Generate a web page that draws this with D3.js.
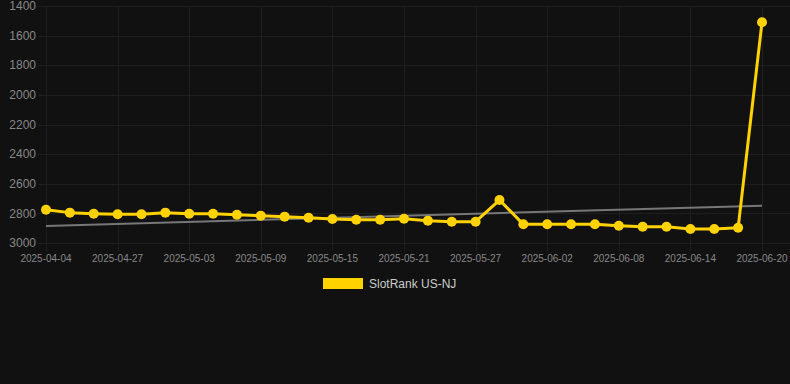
<!DOCTYPE html>
<html>
<head>
<meta charset="utf-8">
<script src="https://cdn.jsdelivr.net/npm/d3@7/dist/d3.min.js"></script>
<style>
  html, body { margin: 0; padding: 0; background: #111111; }
  svg { display: block; font-family: "Liberation Sans", Arial, Helvetica, sans-serif; }
</style>
</head>
<body>
<svg id="chart" width="790" height="384"></svg>
<script>
// chart data
const dates = [
  "2025-04-04", "2025-04-23", "2025-04-25", "2025-04-27", "2025-04-29", "2025-05-01",
  "2025-05-03", "2025-05-05", "2025-05-07", "2025-05-09", "2025-05-11", "2025-05-13",
  "2025-05-15", "2025-05-17", "2025-05-19", "2025-05-21", "2025-05-23", "2025-05-25",
  "2025-05-27", "2025-05-29", "2025-05-31", "2025-06-02", "2025-06-04", "2025-06-06",
  "2025-06-08", "2025-06-10", "2025-06-12", "2025-06-14", "2025-06-16", "2025-06-18",
  "2025-06-20"
];
const ranks = [
  2775, 2795, 2802, 2806, 2806, 2795, 2802, 2802, 2809, 2816,
  2822, 2829, 2838, 2843, 2843, 2836, 2849, 2856, 2856, 2710,
  2874, 2874, 2874, 2874, 2883, 2890, 2890, 2905, 2905, 2897,
  1510
];
const trendEnds = [2885, 2748];
const yTicks = [1400, 1600, 1800, 2000, 2200, 2400, 2600, 2800, 3000];
const seriesName = "SlotRank US-NJ";

const W = 790, H = 384;
const m = { left: 46, right: 762, top: 6, bottom: 243 };
const gold = "#FFD200";

const svg = d3.select("#chart");

const x = d3.scalePoint().domain(dates).range([m.left, m.right]);
const y = d3.scaleLinear().domain([1400, 3000]).range([m.top, m.bottom]);

// grid
const grid = svg.append("g").attr("stroke", "#1e1e1e").attr("stroke-width", 1);
grid.selectAll("line.h").data(yTicks).join("line")
  .attr("class", "h")
  .attr("x1", 38).attr("x2", W)
  .attr("y1", d => Math.round(y(d)) + 0.5).attr("y2", d => Math.round(y(d)) + 0.5);

const shown = dates.filter((d, i) => i % 3 === 0);
grid.selectAll("line.v").data(shown).join("line")
  .attr("class", "v")
  .attr("x1", d => Math.round(x(d)) + 0.5).attr("x2", d => Math.round(x(d)) + 0.5)
  .attr("y1", m.top).attr("y2", m.bottom + 8);

// axes labels
svg.append("g").selectAll("text").data(yTicks).join("text")
  .attr("x", 36).attr("y", d => y(d))
  .attr("dy", "0.35em")
  .attr("text-anchor", "end")
  .attr("fill", "#888888")
  .attr("font-size", 12)
  .text(d => d);

svg.append("g").selectAll("text").data(shown).join("text")
  .attr("x", d => x(d)).attr("y", 262)
  .attr("text-anchor", "middle")
  .attr("fill", "#888888")
  .attr("font-size", 10)
  .text(d => d);

// trend line
svg.append("line")
  .attr("x1", x(dates[0])).attr("y1", y(trendEnds[0]))
  .attr("x2", x(dates[dates.length - 1])).attr("y2", y(trendEnds[1]))
  .attr("stroke", "#777777").attr("stroke-width", 2);

// series
const pts = dates.map((d, i) => ({ d: d, v: ranks[i] }));
svg.append("path")
  .datum(pts)
  .attr("fill", "none")
  .attr("stroke", gold)
  .attr("stroke-width", 3)
  .attr("stroke-linejoin", "round")
  .attr("d", d3.line().x(p => x(p.d)).y(p => y(p.v)));

svg.append("g").selectAll("circle").data(pts).join("circle")
  .attr("cx", p => x(p.d)).attr("cy", p => y(p.v))
  .attr("r", 5)
  .attr("fill", gold);

// legend
const lg = svg.append("g");
lg.append("rect")
  .attr("x", 323).attr("y", 278).attr("width", 40).attr("height", 11)
  .attr("fill", gold);
lg.append("text")
  .attr("x", 369).attr("y", 284)
  .attr("dy", "0.35em")
  .attr("fill", "#cccccc")
  .attr("font-size", 12)
  .text(seriesName);
</script>
</body>
</html>
